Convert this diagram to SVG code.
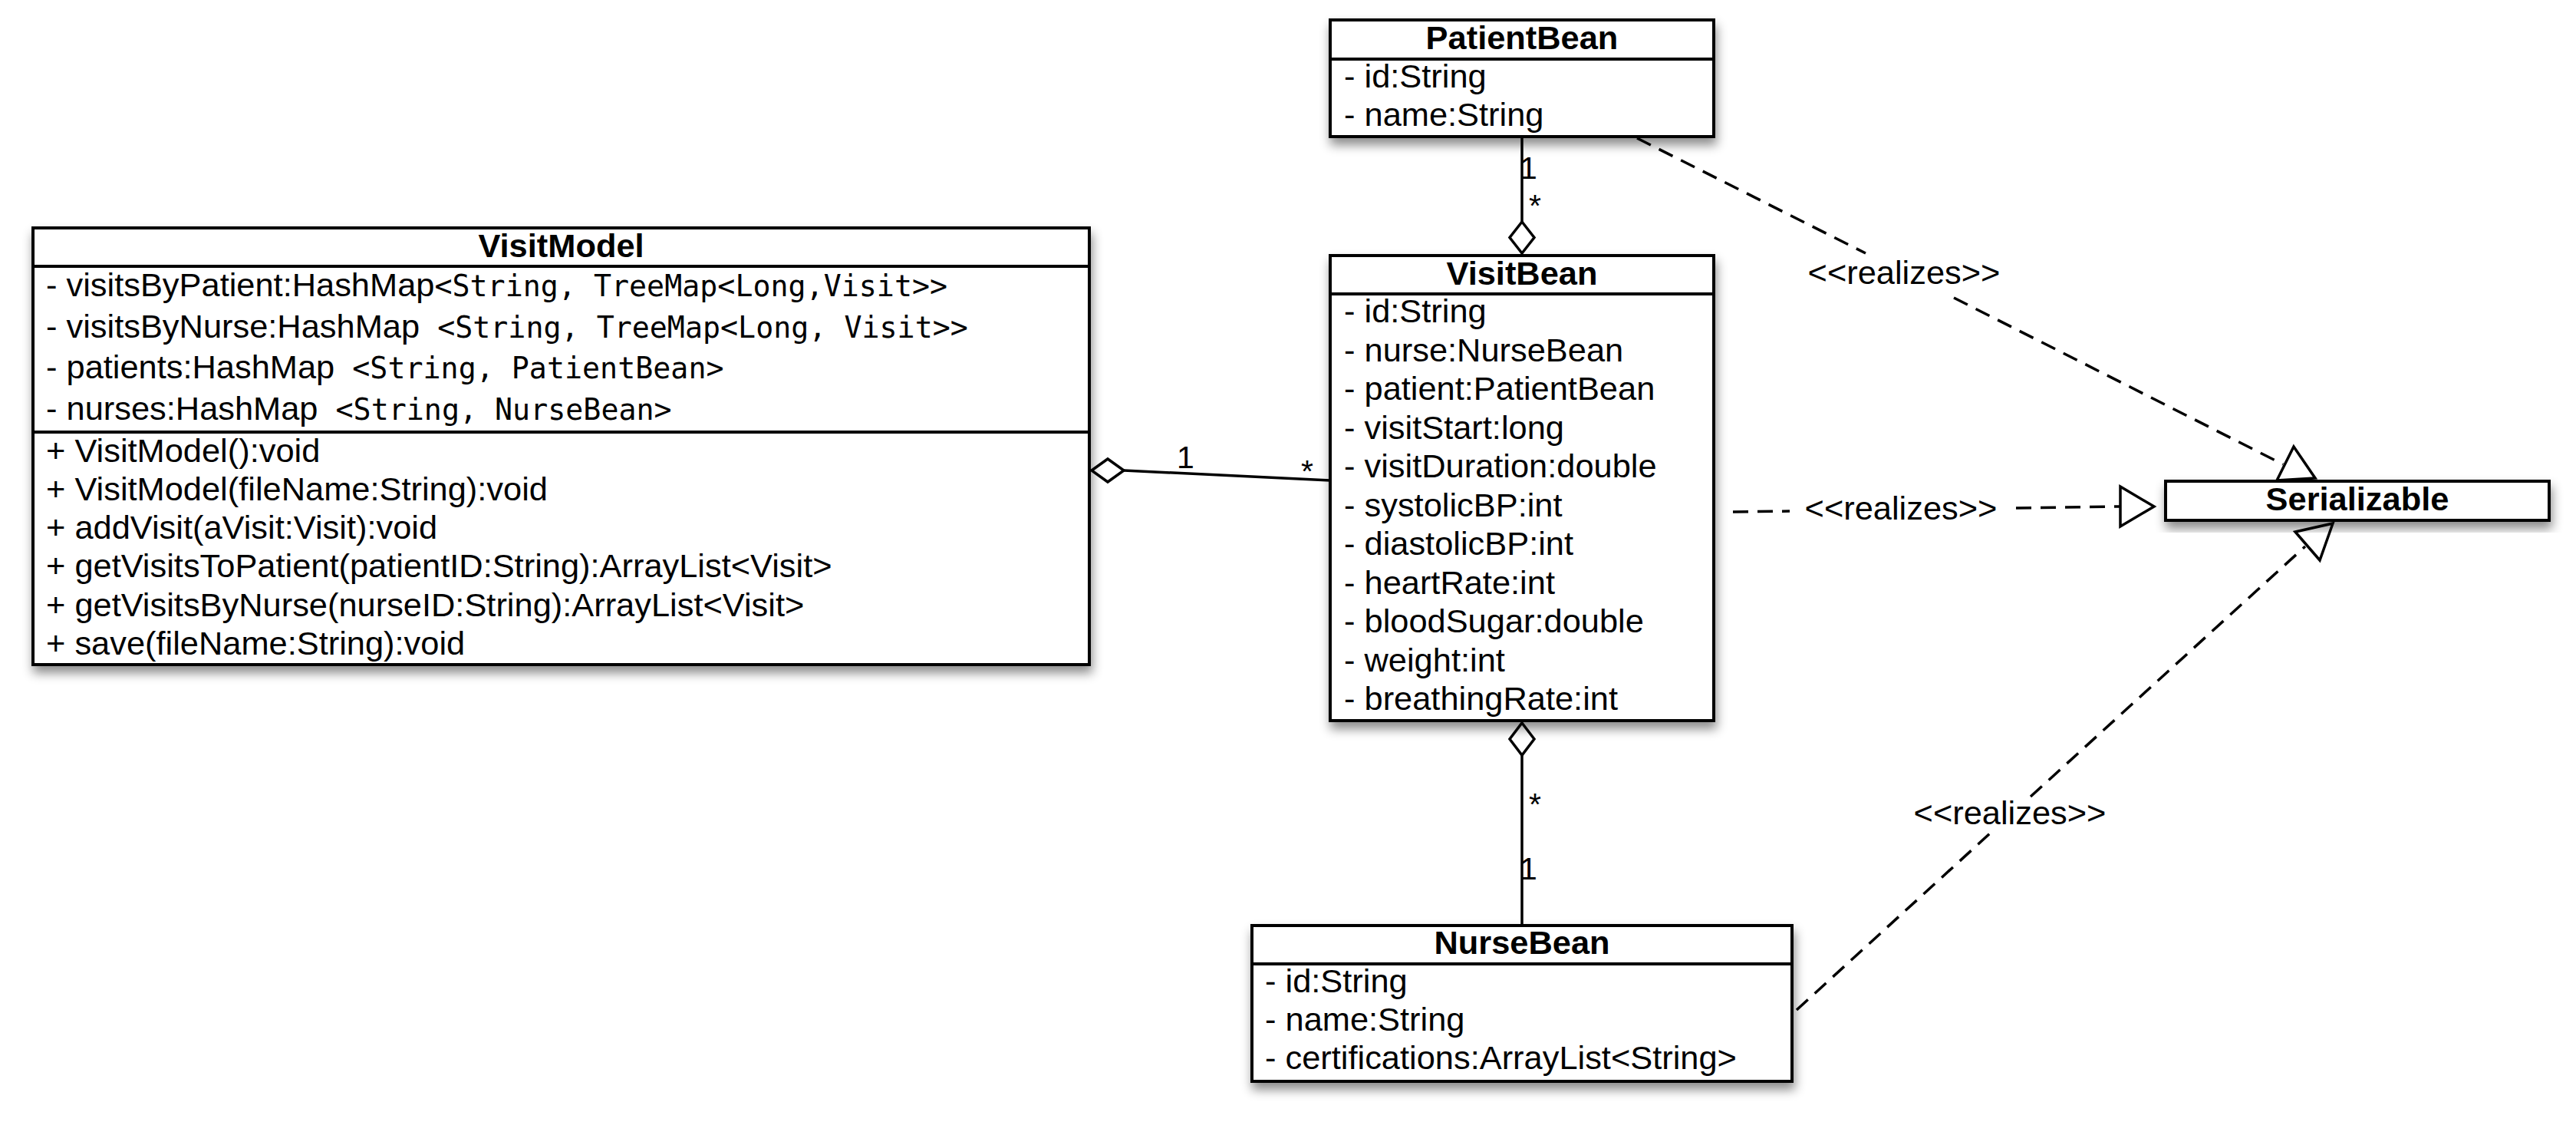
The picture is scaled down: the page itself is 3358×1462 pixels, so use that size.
<svg xmlns="http://www.w3.org/2000/svg" width="3358" height="1462" viewBox="0 0 3358 1462">
<defs>
<style>
.box{fill:#fff;stroke:#000;stroke-width:4}
.sep{stroke:#000;stroke-width:4}
.t{font-family:"Liberation Sans",Arial,Helvetica,sans-serif;font-size:43.4px;fill:#000;white-space:pre}
.ttl{font-weight:bold;text-anchor:middle}
.m{font-family:"DejaVu Sans Mono","Liberation Mono",monospace;font-size:38.3px}
.c{stroke:#000;stroke-width:3.5;fill:none}
.d{stroke-dasharray:20 12}
.hd{stroke:#000;stroke-width:3.5;fill:#fff;stroke-linejoin:miter}
.lbl{font-family:"Liberation Sans",Arial,Helvetica,sans-serif;font-size:41px;fill:#000}
.rl{font-family:"Liberation Sans",Arial,Helvetica,sans-serif;font-size:43.4px;fill:#000;text-anchor:middle}
</style>
<filter id="sh" x="-10%" y="-20%" width="125%" height="150%">
<feDropShadow dx="2" dy="9" stdDeviation="7" flood-color="#000" flood-opacity="0.45"/>
</filter>
</defs>
<rect width="3358" height="1462" fill="#fff"/>

<g id="connectors">
<!-- PatientBean - VisitBean aggregation -->
<line class="c" x1="1984" y1="178" x2="1984" y2="289"/>
<polygon class="hd" points="1984,289 2000,309.5 1984,330 1968,309.5"/>
<text class="lbl" x="1981" y="233">1</text>
<text class="lbl" x="1993" y="282">*</text>
<!-- VisitBean - NurseBean aggregation -->
<polygon class="hd" points="1984,942 2000,963 1984,984 1968,963"/>
<line class="c" x1="1984" y1="984" x2="1984" y2="1206"/>
<text class="lbl" x="1993" y="1062">*</text>
<text class="lbl" x="1981" y="1146">1</text>
<!-- VisitModel - VisitBean aggregation -->
<polygon class="hd" points="1423,613 1444,598 1465,613 1444,628"/>
<line class="c" x1="1465" y1="613" x2="1734" y2="626"/>
<text class="lbl" x="1534" y="610">1</text>
<text class="lbl" x="1696" y="628">*</text>
<!-- PatientBean realizes Serializable -->
<line class="c d" x1="2134" y1="180" x2="2432" y2="330"/>
<line class="c d" x1="2547" y1="388" x2="2976" y2="605"/>
<polygon class="hd" points="2990,582 3018,623 2968,626"/>
<text class="rl" x="2482" y="370">&lt;&lt;realizes&gt;&gt;</text>
<!-- VisitBean realizes Serializable -->
<line class="c d" x1="2259" y1="667" x2="2333" y2="666"/>
<line class="c d" x1="2628" y1="662" x2="2764" y2="660"/>
<polygon class="hd" points="2764,634 2808,660 2764,686"/>
<text class="rl" x="2478" y="677">&lt;&lt;realizes&gt;&gt;</text>
<!-- NurseBean realizes Serializable -->
<line class="c d" x1="2342" y1="1316" x2="2594" y2="1086"/>
<line class="c d" x1="2647" y1="1038" x2="3005" y2="712"/>
<polygon class="hd" points="2992,693 3041,682 3024,730"/>
<text class="rl" x="2620" y="1074">&lt;&lt;realizes&gt;&gt;</text>
</g>

<g id="VisitModel">
<rect class="box" x="43" y="297" width="1377" height="569" filter="url(#sh)"/>
<line class="sep" x1="43" y1="347" x2="1420" y2="347"/>
<line class="sep" x1="43" y1="563" x2="1420" y2="563"/>
<text class="t ttl" x="731.5" y="335">VisitModel</text>
<text class="t" x="60" y="386">- visitsByPatient:HashMap<tspan class="m">&lt;String, TreeMap&lt;Long,Visit&gt;&gt;</tspan></text>
<text class="t" x="60" y="440">- visitsByNurse:HashMap<tspan class="m"> &lt;String, TreeMap&lt;Long, Visit&gt;&gt;</tspan></text>
<text class="t" x="60" y="493">- patients:HashMap<tspan class="m"> &lt;String, PatientBean&gt;</tspan></text>
<text class="t" x="60" y="547">- nurses:HashMap<tspan class="m"> &lt;String, NurseBean&gt;</tspan></text>
<text class="t" x="60" y="602">+ VisitModel():void</text>
<text class="t" x="60" y="652">+ VisitModel(fileName:String):void</text>
<text class="t" x="60" y="702">+ addVisit(aVisit:Visit):void</text>
<text class="t" x="60" y="752">+ getVisitsToPatient(patientID:String):ArrayList&lt;Visit&gt;</text>
<text class="t" x="60" y="803">+ getVisitsByNurse(nurseID:String):ArrayList&lt;Visit&gt;</text>
<text class="t" x="60" y="853">+ save(fileName:String):void</text>
</g>

<g id="PatientBean">
<rect class="box" x="1734" y="26" width="500" height="152" filter="url(#sh)"/>
<line class="sep" x1="1734" y1="77" x2="2234" y2="77"/>
<text class="t ttl" x="1984" y="64">PatientBean</text>
<text class="t" x="1752" y="114">- id:String</text>
<text class="t" x="1752" y="164">- name:String</text>
</g>

<g id="VisitBean">
<rect class="box" x="1734" y="333" width="500" height="606" filter="url(#sh)"/>
<line class="sep" x1="1734" y1="383" x2="2234" y2="383"/>
<text class="t ttl" x="1984" y="371">VisitBean</text>
<text class="t" x="1752" y="420">- id:String</text>
<text class="t" x="1752" y="470.5">- nurse:NurseBean</text>
<text class="t" x="1752" y="521">- patient:PatientBean</text>
<text class="t" x="1752" y="571.5">- visitStart:long</text>
<text class="t" x="1752" y="622">- visitDuration:double</text>
<text class="t" x="1752" y="672.5">- systolicBP:int</text>
<text class="t" x="1752" y="723">- diastolicBP:int</text>
<text class="t" x="1752" y="773.5">- heartRate:int</text>
<text class="t" x="1752" y="824">- bloodSugar:double</text>
<text class="t" x="1752" y="874.5">- weight:int</text>
<text class="t" x="1752" y="925">- breathingRate:int</text>
</g>

<g id="NurseBean">
<rect class="box" x="1632" y="1206" width="704" height="203" filter="url(#sh)"/>
<line class="sep" x1="1632" y1="1256" x2="2336" y2="1256"/>
<text class="t ttl" x="1984" y="1243">NurseBean</text>
<text class="t" x="1649" y="1293">- id:String</text>
<text class="t" x="1649" y="1343">- name:String</text>
<text class="t" x="1649" y="1393">- certifications:ArrayList&lt;String&gt;</text>
</g>

<g id="Serializable">
<rect class="box" x="2823" y="627" width="500" height="51" filter="url(#sh)"/>
<text class="t ttl" x="3073" y="665">Serializable</text>
</g>
</svg>
